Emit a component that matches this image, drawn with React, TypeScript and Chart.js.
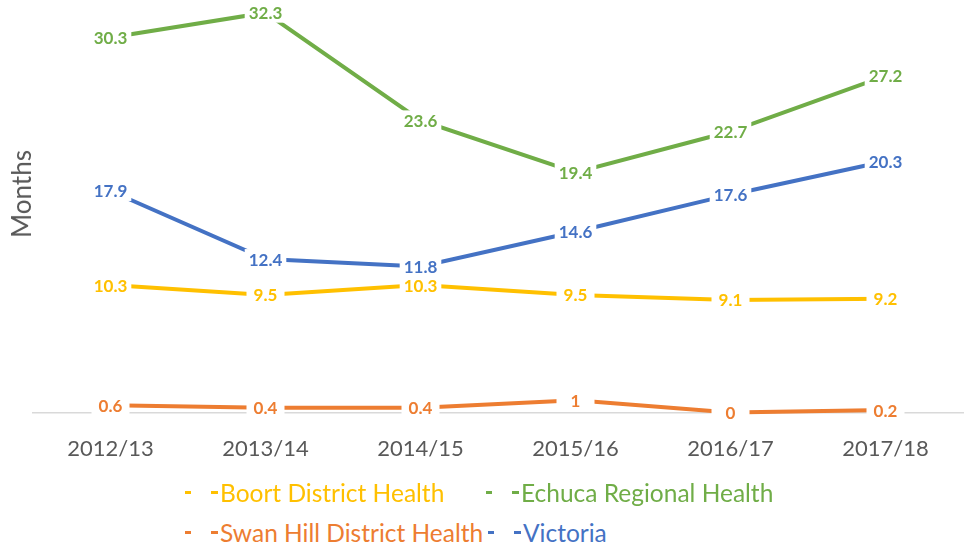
import React, { useEffect, useRef } from "react";
import { Chart, registerables } from "chart.js";

Chart.register(...registerables);

const categories = ["2012/13", "2013/14", "2014/15", "2015/16", "2016/17", "2017/18"];
const boortValues = [10.3, 9.5, 10.3, 9.5, 9.1, 9.2];
const echucaValues = [30.3, 32.3, 23.6, 19.4, 22.7, 27.2];
const swanHillValues = [0.6, 0.4, 0.4, 1, 0, 0.2];
const victoriaValues = [17.9, 12.4, 11.8, 14.6, 17.6, 20.3];
const seriesNames = ["Boort District Health", "Echuca Regional Health", "Swan Hill District Health", "Victoria"];
const seriesColors = ["#FFC000", "#70AD47", "#ED7D31", "#4472C4"];
const yTitle = "Months";

const FONT = "Lato, 'Open Sans', sans-serif";

const pointLabels = {
  id: "pointLabels",
  afterDatasetsDraw(chart: any) {
    const ctx = chart.ctx;
    chart.data.datasets.forEach((ds: any, i: number) => {
      const meta = chart.getDatasetMeta(i);
      meta.data.forEach((pt: any, j: number) => {
        const text = String(ds.data[j]);
        ctx.save();
        ctx.font = `bold 17px ${FONT}`;
        const w = ctx.measureText(text).width;
        const bw = Math.max(w + 8, 38);
        const bh = 20;
        ctx.fillStyle = "#ffffff";
        ctx.fillRect(pt.x - bw / 2, pt.y - bh / 2, bw, bh);
        ctx.fillStyle = ds.borderColor;
        ctx.textAlign = "center";
        ctx.textBaseline = "middle";
        ctx.fillText(text, pt.x, pt.y + 1);
        ctx.restore();
      });
    });
  },
};

export default function App() {
  const canvasRef = useRef<HTMLCanvasElement | null>(null);

  useEffect(() => {
    const seriesData = [boortValues, echucaValues, swanHillValues, victoriaValues];
    const chart = new Chart(canvasRef.current as HTMLCanvasElement, {
      type: "line",
      data: {
        labels: categories,
        datasets: seriesNames.map((name, i) => ({
          label: name,
          data: seriesData[i],
          borderColor: seriesColors[i],
          backgroundColor: seriesColors[i],
          borderWidth: 4,
          pointRadius: 0,
          tension: 0,
          clip: false as any,
        })),
      },
      options: {
        animation: false,
        responsive: true,
        maintainAspectRatio: false,
        layout: { padding: { top: 4, right: 3, bottom: 7, left: 33 } },
        plugins: { legend: { display: false }, tooltip: { enabled: false } },
        scales: {
          x: {
            offset: true,
            grid: { display: false, drawTicks: false },
            border: { display: true, color: "#d9d9d9", width: 1.5 },
            ticks: { color: "#595959", font: { family: FONT, size: 22 }, padding: 23, maxRotation: 0 },
          },
          y: {
            display: false,
            min: 0,
            max: 33,
          },
        },
      },
      plugins: [pointLabels],
    });
    return () => chart.destroy();
  }, []);

  const legendItem = (i: number, left: number, top: number) => (
    <div
      key={i}
      style={{
        position: "absolute",
        left,
        top,
        display: "flex",
        alignItems: "center",
        height: 30,
        fontFamily: FONT,
        fontSize: 24.5,
        color: seriesColors[i],
        whiteSpace: "nowrap",
      }}
    >
      <span style={{ display: "inline-block", width: 6, height: 3, background: seriesColors[i], marginRight: 20 }} />
      <span style={{ display: "inline-block", width: 7, height: 3, background: seriesColors[i], marginRight: 2 }} />
      <span>{seriesNames[i]}</span>
    </div>
  );

  return (
    <div style={{ position: "fixed", left: 0, top: 0, width: 966, height: 547, background: "#fff" }}>
      <div style={{ position: "absolute", left: 0, top: 0, width: 966, height: 492 }}>
        <canvas ref={canvasRef} />
      </div>
      <div
        style={{
          position: "absolute",
          left: 21,
          top: 194,
          transform: "translate(-50%, -50%) rotate(-90deg)",
          fontFamily: FONT,
          fontSize: 26,
          color: "#595959",
          whiteSpace: "nowrap",
          lineHeight: 1,
        }}
      >
        {yTitle}
      </div>
      {legendItem(0, 185, 477)}
      {legendItem(1, 486, 477)}
      {legendItem(2, 185, 517)}
      {legendItem(3, 488, 517)}
    </div>
  );
}
